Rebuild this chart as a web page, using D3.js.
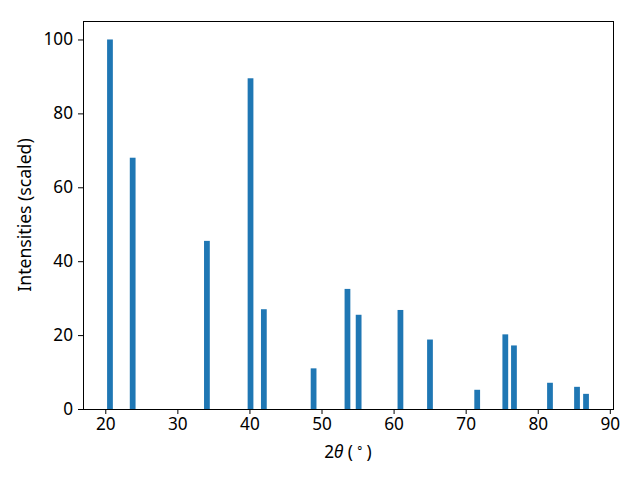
<!DOCTYPE html>
<html>
<head>
<meta charset="utf-8">
<script src="https://cdn.jsdelivr.net/npm/d3@7"></script>
<style>
  body { margin: 0; background: #fff; }
  text { font-family: "Noto Sans", sans-serif; }
</style>
</head>
<body>
<div id="chart"></div>
<script>
// peak positions (2theta, degrees) and scaled intensities
var angles = [20.65, 23.8, 34.1, 40.15, 42.0, 48.9, 53.6, 55.15, 60.95, 65.05, 71.6, 75.5, 76.7, 81.7, 85.45, 86.7]
var intensities = [100, 68, 45.5, 89.5, 27, 11, 32.5, 25.5, 26.8, 18.8, 5.2, 20.2, 17.2, 7.1, 6.0, 4.1]
var xTicks = [20, 30, 40, 50, 60, 70, 80, 90]
var yTicks = [0, 20, 40, 60, 80, 100]
var barWidth = 0.8

var width = 640,
    height = 480,
    margin = {top: 21, right: 27, bottom: 71, left: 83}

var fontSize = "17.2px"

var svg = d3.select("#chart")
  .append("svg")
    .attr("width", width)
    .attr("height", height)

// matplotlib style 5% margins on x
var lo = d3.min(angles) - barWidth / 2,
    hi = d3.max(angles) + barWidth / 2,
    pad = (hi - lo) * 0.05

var x = d3.scaleLinear()
  .domain([lo - pad, hi + pad])
  .range([margin.left, width - margin.right])

var y = d3.scaleLinear()
  .domain([0, d3.max(intensities) * 1.05])
  .range([height - margin.bottom, margin.top])

var data = angles.map(function(a, i) { return {x: a, y: intensities[i]} })

svg.selectAll("rect.bar")
  .data(data)
  .enter()
  .append("rect")
    .attr("class", "bar")
    .attr("x", function(d) { return x(d.x - barWidth / 2) })
    .attr("width", function(d) { return x(d.x + barWidth / 2) - x(d.x - barWidth / 2) })
    .attr("y", function(d) { return y(d.y) })
    .attr("height", function(d) { return y(0) - y(d.y) })
    .attr("fill", "#1f77b4")

// axes
svg.append("g")
  .attr("transform", "translate(0," + (height - margin.bottom) + ")")
  .call(d3.axisBottom(x).tickValues(xTicks).tickSize(5).tickPadding(4))

svg.append("g")
  .attr("transform", "translate(" + margin.left + ",0)")
  .call(d3.axisLeft(y).tickValues(yTicks).tickSize(5).tickPadding(5))

svg.selectAll(".tick text")
  .attr("font-size", fontSize)
  .attr("font-family", "Noto Sans, sans-serif")
  .attr("fill", "#000")
svg.selectAll(".tick line").attr("stroke", "#000").attr("stroke-width", 1)
svg.selectAll(".domain").remove()

// frame
svg.append("rect")
  .attr("x", margin.left + 0.5)
  .attr("y", margin.top + 0.5)
  .attr("width", width - margin.left - margin.right)
  .attr("height", height - margin.top - margin.bottom)
  .attr("fill", "none")
  .attr("stroke", "#000")
  .attr("stroke-width", 1)

// labels
var xl = svg.append("text")
  .attr("x", (margin.left + width - margin.right) / 2)
  .attr("y", 458)
  .attr("text-anchor", "middle")
  .attr("font-size", fontSize)
xl.append("tspan").text("2")
xl.append("tspan").attr("font-style", "italic").text("θ")
xl.append("tspan").text(" (\u2009")
xl.append("tspan").attr("font-size", "11.5px").attr("dy", "-6").text("∘")
xl.append("tspan").attr("dy", "6").text("\u2009)")

svg.append("text")
  .attr("transform", "translate(31," + ((margin.top + height - margin.bottom) / 2) + ") rotate(-90)")
  .attr("text-anchor", "middle")
  .attr("font-size", "17.6px")
  .text("Intensities (scaled)")
</script>
</body>
</html>
